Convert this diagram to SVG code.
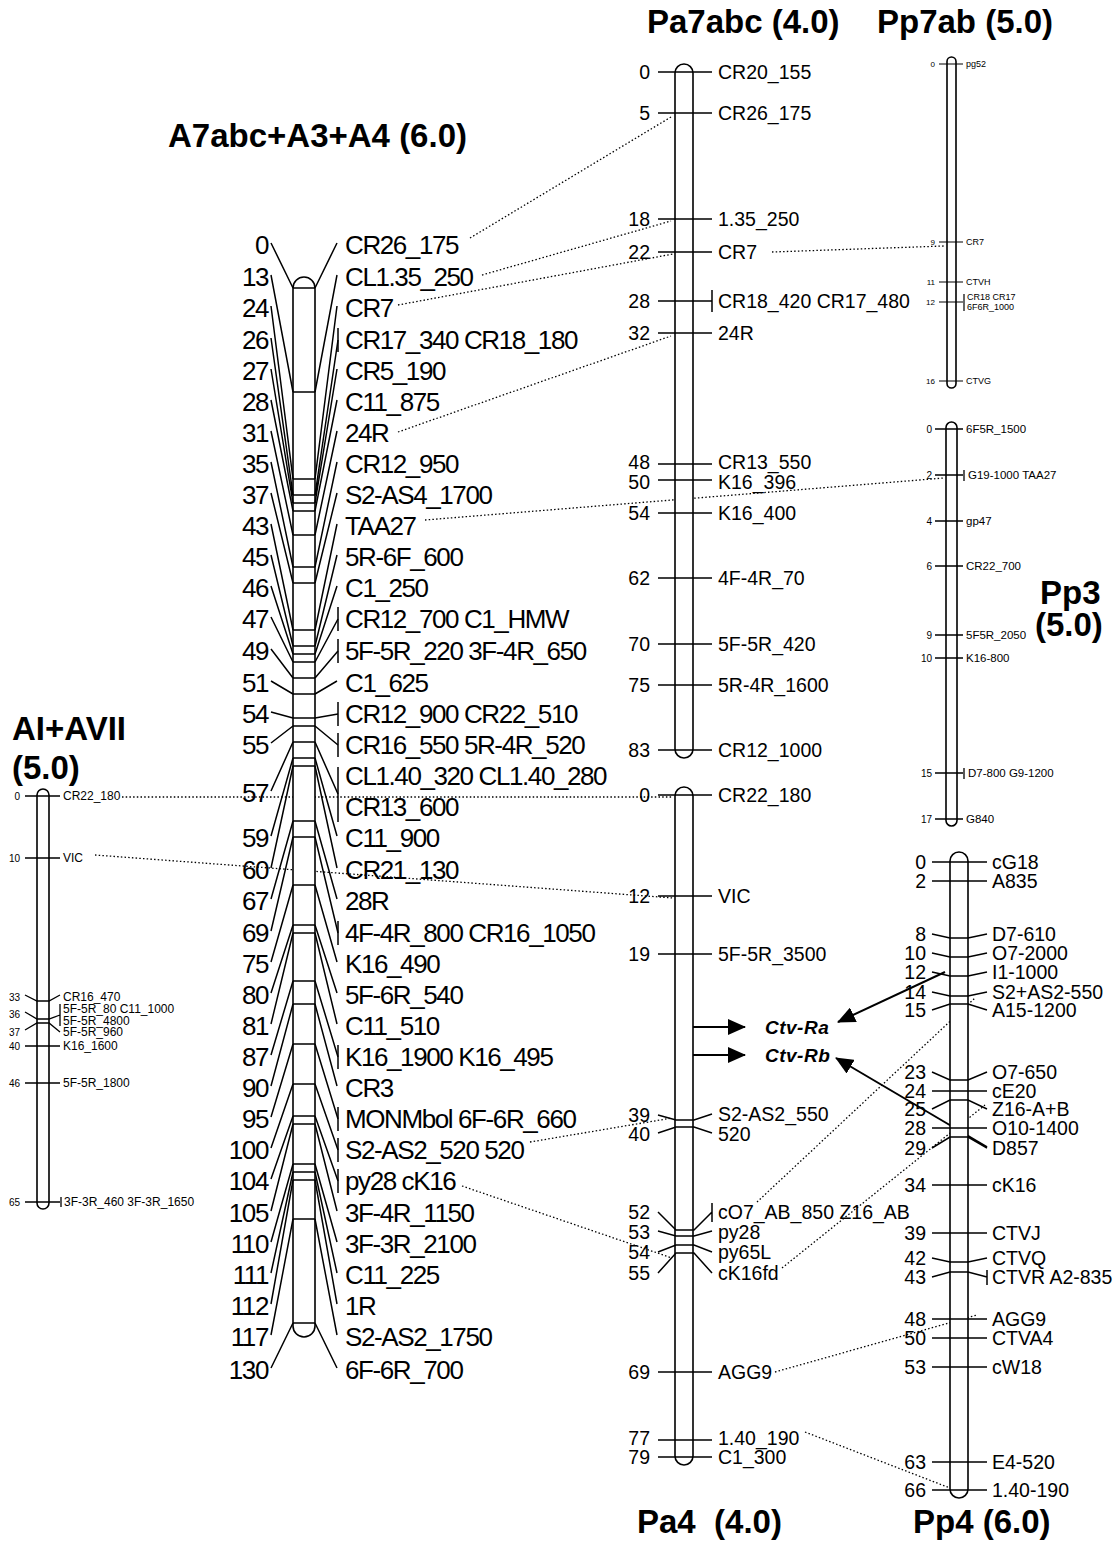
<svg xmlns="http://www.w3.org/2000/svg" width="1117" height="1550" viewBox="0 0 1117 1550">
<defs>
<marker id="ah" viewBox="0 0 18 16" refX="17" refY="8" markerWidth="18" markerHeight="16" markerUnits="userSpaceOnUse" orient="auto"><path d="M0,0 L18,8 L0,16 Z" fill="#000"/></marker>
</defs>
<style>
.chr{fill:#fff;stroke:#000;stroke-width:1.6}
.tk{stroke:#000;stroke-width:1.5;fill:none}
.dt{stroke:#000;stroke-width:1.3;stroke-dasharray:1.5 2.2;fill:none}
.ar{stroke:#000;stroke-width:2;fill:none}
text{font-family:"Liberation Sans",Arial,sans-serif;fill:#000}
.ti{font-size:33px;font-weight:bold}
.bg{font-size:26px;letter-spacing:-1.4px}
.md{font-size:19.5px}
.s8{font-size:8px}
.s9{font-size:9px}
.s10{font-size:10px}
.s11{font-size:11.5px}
.s12{font-size:12px}
.ctv{font-size:19px;font-weight:bold;font-style:italic;letter-spacing:0.5px}
.e{text-anchor:end}
</style>
<rect width="1117" height="1550" fill="#fff"/>

<g id="titles">
<text class="ti" x="168" y="147">A7abc+A3+A4 (6.0)</text>
<text class="ti" x="647" y="33">Pa7abc (4.0)</text>
<text class="ti" x="877" y="33">Pp7ab (5.0)</text>
<text class="ti" x="12" y="740">AI+AVII</text>
<text class="ti" x="12" y="779">(5.0)</text>
<text class="ti" x="1040" y="604">Pp3</text>
<text class="ti" x="1035" y="636">(5.0)</text>
<text class="ti" x="637" y="1533" xml:space="preserve">Pa4  (4.0)</text>
<text class="ti" x="913" y="1533">Pp4 (6.0)</text>
</g>

<g id="connectors">
<path class="dt" d="M470 238L671 117"/>
<path class="dt" d="M482 275L671 221"/>
<path class="dt" d="M398 305L673 254"/>
<path class="dt" d="M772 252L944 246"/>
<path class="dt" d="M398 432L671 336"/>
<path class="dt" d="M425 520L944 478"/>
<path class="dt" d="M122 797L673 797"/>
<path class="dt" d="M95 855L673 898"/>
<path class="dt" d="M530 1142L672 1118"/>
<path class="dt" d="M462 1186L672 1258"/>
<path class="dt" d="M757 1202L975 998"/>
<path class="dt" d="M782 1268L985 1105"/>
<path class="dt" d="M775 1372L977 1315"/>
<path class="dt" d="M805 1432L950 1488"/>
<path class="ar" d="M688 1027H745" marker-end="url(#ah)"/>
<path class="ar" d="M688 1055H745" marker-end="url(#ah)"/>
<path class="ar" d="M945 972L838 1022" marker-end="url(#ah)"/>
<path class="ar" d="M987 1147L836 1058" marker-end="url(#ah)"/>
</g>

<g id="ctv-labels">
<text class="ctv" x="765" y="1034">Ctv-Ra</text>
<text class="ctv" x="765" y="1062">Ctv-Rb</text>
</g>

<g id="A7abc">
<rect class="chr" x="293" y="277" width="22" height="1060" rx="11"/>
<path class="tk" d="M293 288H315M293 392H315M293 479H315M293 495H315M293 503H315M293 511H315M293 535H315M293 567H315M293 583H315M293 630H315M293 646H315M293 654H315M293 662H315M293 678H315M293 694H315M293 718H315M293 726H315M293 742H315M293 758H315M293 766H315M293 821H315M293 837H315M293 885H315M293 925H315M293 933H315M293 981H315M293 1004H315M293 1044H315M293 1084H315M293 1116H315M293 1124H315M293 1164H315M293 1172H315M293 1180H315M293 1219H315M293 1323H315"/>
<path class="tk" d="M271 243L293 288M271 275L293 392M271 306L293 479M271 338L293 495M271 369L293 503M271 400L293 511M271 431L293 535M271 462L293 567M271 493L293 583M271 524L293 630M271 555L293 646M271 586L293 654M271 617L293 662M271 649L293 678M271 681L293 694M271 712L293 718M271 743L293 726M271 791L293 742M271 836L293 758M271 868L293 766M271 899L293 821M271 931L293 837M271 962L293 885M271 993L293 925M271 1024L293 933M271 1055L293 981M271 1086L293 1004M271 1117L293 1044M271 1148L293 1084M271 1179L293 1116M271 1211L293 1124M271 1242L293 1164M271 1273L293 1172M271 1304L293 1180M271 1335L293 1219M271 1368L293 1323"/>
<path class="tk" d="M337 243L315 288M337 275L315 392M337 306L315 479M338 340L315 495M337 369L315 503M337 400L315 511M337 431L315 535M337 462L315 567M337 493L315 583M337 524L315 630M337 555L315 646M337 586L315 654M338 619L315 662M338 651L315 678M337 681L315 694M338 714L315 718M338 745L315 726M338 794L315 742M337 836L315 758M337 868L315 766M337 899L315 821M338 933L315 837M337 962L315 885M337 993L315 925M337 1024L315 933M338 1057L315 981M337 1086L315 1004M338 1119L315 1044M338 1150L315 1084M338 1181L315 1116M337 1211L315 1124M337 1242L315 1164M337 1273L315 1172M337 1304L315 1180M337 1335L315 1219M337 1368L315 1323"/>
<path class="tk" d="M338 328V352M338 607V631M338 639V663M338 702V726M338 733V757M338 767V822M338 921V945M338 1045V1069M338 1107V1131M338 1138V1162M338 1169V1193"/>
<g class="bg e">
<text x="268" y="254">0</text><text x="268" y="286">13</text><text x="268" y="317">24</text><text x="268" y="349">26</text><text x="268" y="380">27</text><text x="268" y="411">28</text><text x="268" y="442">31</text><text x="268" y="473">35</text><text x="268" y="504">37</text><text x="268" y="535">43</text><text x="268" y="566">45</text><text x="268" y="597">46</text><text x="268" y="628">47</text><text x="268" y="660">49</text><text x="268" y="692">51</text><text x="268" y="723">54</text><text x="268" y="754">55</text><text x="268" y="802">57</text><text x="268" y="847">59</text><text x="268" y="879">60</text><text x="268" y="910">67</text><text x="268" y="942">69</text><text x="268" y="973">75</text><text x="268" y="1004">80</text><text x="268" y="1035">81</text><text x="268" y="1066">87</text><text x="268" y="1097">90</text><text x="268" y="1128">95</text><text x="268" y="1159">100</text><text x="268" y="1190">104</text><text x="268" y="1222">105</text><text x="268" y="1253">110</text><text x="268" y="1284">111</text><text x="268" y="1315">112</text><text x="268" y="1346">117</text><text x="268" y="1379">130</text>
</g>
<g class="bg">
<text x="345" y="254">CR26_175</text><text x="345" y="286">CL1.35_250</text><text x="345" y="317">CR7</text><text x="345" y="349">CR17_340 CR18_180</text><text x="345" y="380">CR5_190</text><text x="345" y="411">C11_875</text><text x="345" y="442">24R</text><text x="345" y="473">CR12_950</text><text x="345" y="504">S2-AS4_1700</text><text x="345" y="535">TAA27</text><text x="345" y="566">5R-6F_600</text><text x="345" y="597">C1_250</text><text x="345" y="628">CR12_700 C1_HMW</text><text x="345" y="660">5F-5R_220 3F-4R_650</text><text x="345" y="692">C1_625</text><text x="345" y="723">CR12_900 CR22_510</text><text x="345" y="754">CR16_550 5R-4R_520</text><text x="345" y="785">CL1.40_320 CL1.40_280</text><text x="345" y="816">CR13_600</text><text x="345" y="847">C11_900</text><text x="345" y="879">CR21_130</text><text x="345" y="910">28R</text><text x="345" y="942">4F-4R_800 CR16_1050</text><text x="345" y="973">K16_490</text><text x="345" y="1004">5F-6R_540</text><text x="345" y="1035">C11_510</text><text x="345" y="1066">K16_1900 K16_495</text><text x="345" y="1097">CR3</text><text x="345" y="1128">MONMbol 6F-6R_660</text><text x="345" y="1159">S2-AS2_520 520</text><text x="345" y="1190">py28 cK16</text><text x="345" y="1222">3F-4R_1150</text><text x="345" y="1253">3F-3R_2100</text><text x="345" y="1284">C11_225</text><text x="345" y="1315">1R</text><text x="345" y="1346">S2-AS2_1750</text><text x="345" y="1379">6F-6R_700</text>
</g>
</g>

<g id="Pa7abc">
<rect class="chr" x="675" y="64" width="18" height="694" rx="9"/>
<path class="tk" d="M658 72H712M658 113H712M658 219H712M658 252H712M658 301H712M712 290V312M658 333H712M658 464H712M658 480H712M658 513H712M658 578H712M658 644H712M658 685H712M658 750H712"/>
<g class="md e">
<text x="650" y="79">0</text><text x="650" y="120">5</text><text x="650" y="226">18</text><text x="650" y="259">22</text><text x="650" y="308">28</text><text x="650" y="340">32</text><text x="650" y="469">48</text><text x="650" y="489">50</text><text x="650" y="520">54</text><text x="650" y="585">62</text><text x="650" y="651">70</text><text x="650" y="692">75</text><text x="650" y="757">83</text>
</g>
<g class="md">
<text x="718" y="79">CR20_155</text><text x="718" y="120">CR26_175</text><text x="718" y="226">1.35_250</text><text x="718" y="259">CR7</text><text x="718" y="308">CR18_420 CR17_480</text><text x="718" y="340">24R</text><text x="718" y="469">CR13_550</text><text x="718" y="489">K16_396</text><text x="718" y="520">K16_400</text><text x="718" y="585">4F-4R_70</text><text x="718" y="651">5F-5R_420</text><text x="718" y="692">5R-4R_1600</text><text x="718" y="757">CR12_1000</text>
</g>
</g>

<g id="Pa4">
<rect class="chr" x="675" y="787" width="18" height="678" rx="9"/>
<path class="tk" d="M658 795H712M658 896H712M658 954H712M658 1115L676 1120H694L712 1114M658 1133L676 1127H694L712 1133M658 1212L676 1230H694L712 1212M712 1203V1222M658 1231L676 1236H694L712 1231M658 1252L676 1245H694L712 1252M658 1273L676 1253H694L712 1273M658 1372H712M658 1440H712M658 1457H712"/>
<g class="md e">
<text x="650" y="802">0</text><text x="650" y="903">12</text><text x="650" y="961">19</text><text x="650" y="1122">39</text><text x="650" y="1141">40</text><text x="650" y="1219">52</text><text x="650" y="1239">53</text><text x="650" y="1259">54</text><text x="650" y="1280">55</text><text x="650" y="1379">69</text><text x="650" y="1445">77</text><text x="650" y="1464">79</text>
</g>
<g class="md">
<text x="718" y="802">CR22_180</text><text x="718" y="903">VIC</text><text x="718" y="961">5F-5R_3500</text><text x="718" y="1121">S2-AS2_550</text><text x="718" y="1141">520</text><text x="718" y="1219">cO7_AB_850 Z16_AB</text><text x="718" y="1239">py28</text><text x="718" y="1259">py65L</text><text x="718" y="1280">cK16fd</text><text x="718" y="1379">AGG9</text><text x="718" y="1445">1.40_190</text><text x="718" y="1464">C1_300</text>
</g>
</g>

<g id="Pp4">
<rect class="chr" x="950" y="852" width="18" height="646" rx="9"/>
<path class="tk" d="M932 862H987M932 881H987M932 934L950 938H968L987 934M932 953L950 957H968L987 953M932 972L950 976H968L987 972M932 992L950 996H968L987 992M932 1010L950 1004H968L987 1010M932 1072L950 1080H968L987 1072M932 1091H987M932 1109L950 1100H968L987 1109M932 1128H987M932 1148L950 1137H968L987 1148M932 1185H987M932 1233H987M932 1258L950 1262H968L987 1258M932 1277L950 1272H968L987 1277M987 1270V1285M932 1319H987M932 1338H987M932 1367H987M932 1462H987M932 1490H987"/>
<g class="md e">
<text x="926" y="869">0</text><text x="926" y="888">2</text><text x="926" y="941">8</text><text x="926" y="960">10</text><text x="926" y="979">12</text><text x="926" y="999">14</text><text x="926" y="1017">15</text><text x="926" y="1079">23</text><text x="926" y="1098">24</text><text x="926" y="1116">25</text><text x="926" y="1135">28</text><text x="926" y="1155">29</text><text x="926" y="1192">34</text><text x="926" y="1240">39</text><text x="926" y="1265">42</text><text x="926" y="1284">43</text><text x="926" y="1326">48</text><text x="926" y="1345">50</text><text x="926" y="1374">53</text><text x="926" y="1469">63</text><text x="926" y="1497">66</text>
</g>
<g class="md">
<text x="992" y="869">cG18</text><text x="992" y="888">A835</text><text x="992" y="941">D7-610</text><text x="992" y="960">O7-2000</text><text x="992" y="979">I1-1000</text><text x="992" y="999">S2+AS2-550</text><text x="992" y="1017">A15-1200</text><text x="992" y="1079">O7-650</text><text x="992" y="1098">cE20</text><text x="992" y="1116">Z16-A+B</text><text x="992" y="1135">O10-1400</text><text x="992" y="1155">D857</text><text x="992" y="1192">cK16</text><text x="992" y="1240">CTVJ</text><text x="992" y="1265">CTVQ</text><text x="992" y="1284">CTVR A2-835</text><text x="992" y="1326">AGG9</text><text x="992" y="1345">CTVA4</text><text x="992" y="1374">cW18</text><text x="992" y="1469">E4-520</text><text x="992" y="1497">1.40-190</text>
</g>
</g>

<g id="Pp7ab">
<rect class="chr" x="947" y="57" width="9" height="331" rx="4.5"/>
<path class="tk" d="M939 64H963M939 242H963M939 282H963M939 302H963M964 294V311M939 381H963" style="stroke-width:1.2"/>
<g class="s8 e">
<text x="935" y="67">0</text><text x="935" y="245">9</text><text x="935" y="285">11</text><text x="935" y="305">12</text><text x="935" y="384">16</text>
</g>
<g class="s9">
<text x="966" y="67">pg52</text><text x="966" y="245">CR7</text><text x="966" y="285">CTVH</text><text x="967" y="300">CR18 CR17</text><text x="967" y="310">6F6R_1000</text><text x="966" y="384">CTVG</text>
</g>
</g>

<g id="Pp3">
<rect class="chr" x="946" y="422" width="11" height="404" rx="5.5"/>
<path class="tk" d="M935 429H963M935 475H963M964 470V481M935 521H963M935 566H963M935 635H963M935 658H963M935 773H963M964 768V779M935 819H963" style="stroke-width:1.3"/>
<g class="s10 e">
<text x="932" y="433">0</text><text x="932" y="479">2</text><text x="932" y="525">4</text><text x="932" y="570">6</text><text x="932" y="639">9</text><text x="932" y="662">10</text><text x="932" y="777">15</text><text x="932" y="823">17</text>
</g>
<g class="s11">
<text x="966" y="433">6F5R_1500</text><text x="968" y="479">G19-1000 TAA27</text><text x="966" y="525">gp47</text><text x="966" y="570">CR22_700</text><text x="966" y="639">5F5R_2050</text><text x="966" y="662">K16-800</text><text x="968" y="777">D7-800 G9-1200</text><text x="966" y="823">G840</text>
</g>
</g>

<g id="AI-AVII">
<rect class="chr" x="37" y="789" width="12" height="420" rx="6"/>
<path class="tk" d="M25 796H60M25 858H60M25 995L37 1001H49L60 995M25 1012L37 1019H49L60 1015M60 1004V1026M25 1030L37 1023H49L60 1032M25 1046H60M25 1083H60M25 1202H60M61 1197V1207" style="stroke-width:1.3"/>
<g class="s10 e">
<text x="20" y="800">0</text><text x="20" y="862">10</text><text x="20" y="1001">33</text><text x="20" y="1018">36</text><text x="20" y="1036">37</text><text x="20" y="1050">40</text><text x="20" y="1087">46</text><text x="20" y="1206">65</text>
</g>
<g class="s12">
<text x="63" y="800">CR22_180</text><text x="63" y="862">VIC</text><text x="63" y="1001">CR16_470</text><text x="63" y="1013">5F-5R_80 C11_1000</text><text x="63" y="1025">5F-5R_4800</text><text x="63" y="1036">5F-5R_960</text><text x="63" y="1050">K16_1600</text><text x="63" y="1087">5F-5R_1800</text><text x="64" y="1206">3F-3R_460 3F-3R_1650</text>
</g>
</g>
</svg>
